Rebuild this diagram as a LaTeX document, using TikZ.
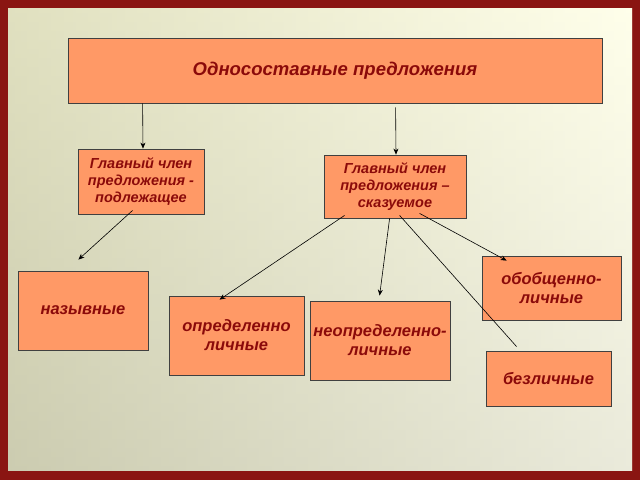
\documentclass[tikz,border=0pt]{standalone}
\usepackage{fontspec}
\setmainfont{Liberation Sans}
\usetikzlibrary{calc,arrows.meta}
\definecolor{boxfill}{HTML}{FF9966}
\definecolor{txt}{HTML}{8B0A0A}
\definecolor{frame}{HTML}{8A1512}
\begin{document}
\begin{tikzpicture}[x=1pt,y=-1pt,
  box/.style={draw=black!75,fill=boxfill,line width=0.8pt,align=center,text=txt,
    font=\bfseries\itshape\fontsize{14.5}{17}\selectfont,inner sep=0pt},
  big/.style={font=\bfseries\itshape\fontsize{16.5}{19}\selectfont},
  arr/.style={-{Stealth[length=6pt,width=5pt]},line width=0.6pt}]
\useasboundingbox (0,0) rectangle (640,480);
\fill[frame] (0,0) rectangle (640,480);
\shade[left color=gray!55!olive!40, right color=yellow!10!white] (8,8) rectangle (632,470);
\shade[top color=white!0!yellow!5,bottom color=gray!40,opacity=0.4] (8,8) rectangle (632,470);
\node[box,minimum width=534,minimum height=65,font=\bfseries\itshape\fontsize{18.5}{21}\selectfont] (t) at (335,70.5) {Односоставные предложения};
\node[box,minimum width=126,minimum height=65] (a) at (141,181.5) {Главный член\\предложения -\\подлежащее};
\node[box,minimum width=142,minimum height=63] (b) at (395,186.5) {Главный член\\предложения –\\сказуемое};
\node[box,big,minimum width=130,minimum height=79] (n) at (83,310.5) {назывные};
\node[box,big,minimum width=135,minimum height=79] (o) at (236.5,335.5) {определенно\\личные};
\node[box,big,minimum width=140,minimum height=79] (ne) at (380,340.5) {неопределенно-\\личные};
\node[box,big,minimum width=139,minimum height=64] (ob) at (551.5,288) {обобщенно-\\личные};
\node[box,big,minimum width=125,minimum height=55] (bz) at (548.5,378.5) {безличные};
\draw[arr] ($(t.south west)+(75,0)$) -- ($(a.north)+(2,0)$);
\draw[arr] ($(t.south west)+(328,4)$) -- ($(b.north)+(1,0)$);
\draw[arr] ($(a.south west)+(55,-4)$) -- ($(n.north east)+(-70,-11)$);
\draw[arr] ($(b.south west)+(21,-3)$) -- ($(o.north west)+(51,4)$);
\draw[arr] ($(b.south west)+(66,0)$) -- ($(ne.north west)+(70,-5)$);
\draw[arr] ($(b.south west)+(96,-5)$) -- ($(ob.north west)+(25,5)$);
\draw[line width=0.6pt] ($(b.south west)+(76,-3)$) -- ($(bz.north west)+(31,-4)$);
\end{tikzpicture}
\end{document}
